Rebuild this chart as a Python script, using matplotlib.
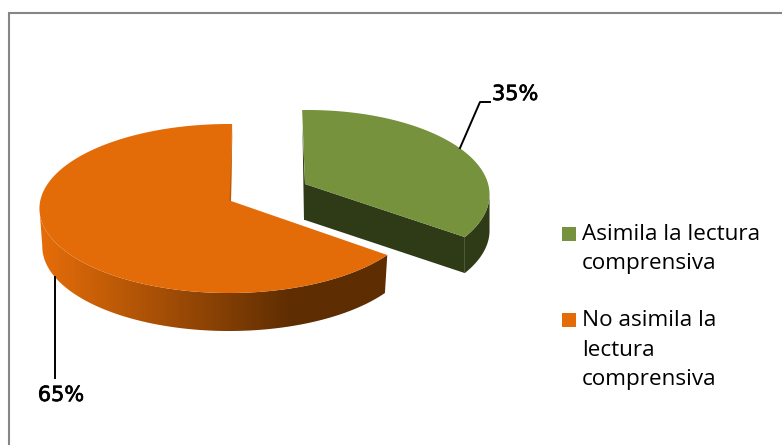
import numpy as np
import matplotlib
matplotlib.use('Agg')
import matplotlib.pyplot as plt
import matplotlib.patheffects as pe
from matplotlib.colors import LinearSegmentedColormap
from matplotlib.patches import Polygon

# chart values
categories = ['Asimila la lectura\ncomprensiva', 'No asimila la\nlectura\ncomprensiva']
shares = [35, 65]
share_labels = ['35%', '65%']

GREEN = '#76923C'
GREEN_SIDE = '#2F3A17'
ORANGE = '#E36C09'
ORANGE_DARK = '#5E2D02'
FRAME = '#868686'


def project(theta, cx, cy, rx, ry=84.0, k=0.077):
    # theta is clockwise from the top, with a small perspective on the disc
    u, v = np.sin(theta), np.cos(theta)
    w = 1 + k * v
    return cx + rx * u / w, cy - ry * v / w


def wedge(start, sweep, cx, cy, rx, apex_x, apex_y):
    # sweep is signed, the angles come from the share values
    t = np.radians(start + np.linspace(0, sweep, 240))
    x, y = project(t, cx, cy, rx)
    return np.r_[apex_x, x], np.r_[apex_y, y]


fig = plt.figure(figsize=(7.82, 4.45), dpi=100)
ax = fig.add_axes([0, 0, 1, 1])

# chart frame, runs off the picture at the bottom and on the right
ax.plot([9, 9, 790], [450, 13, 13], color=FRAME, lw=1.5, zorder=1, solid_joinstyle='miter')

# green slice, pulled out to the right
green_sweep = shares[0] / sum(shares) * 360
gx, gy = wedge(-2, green_sweep, 308, 188, 181, 305, 184)
depth = 36
i = np.argmax(gx)
side = np.c_[np.r_[gx[i:], gx[i:][::-1]], np.r_[gy[i:], gy[i:][::-1] + depth]]
ax.add_patch(Polygon(side, fc=GREEN_SIDE, ec='none', zorder=2))
face = np.c_[[gx[0], gx[-1], gx[-1], gx[0]], [gy[0], gy[-1], gy[-1] + depth, gy[0] + depth]]
ax.add_patch(Polygon(face, fc=GREEN_SIDE, ec='none', zorder=2))
# sliver of the inner wall along the left edge
sliver = np.c_[[gx[1] + 0.3, gx[0], gx[0], gx[0] - 1], [gy[1] + 16, gy[0], gy[0] + depth, gy[0] + depth]]
ax.add_patch(Polygon(sliver, fc=GREEN_SIDE, ec='none', zorder=2))
ax.add_patch(Polygon(np.c_[gx, gy], fc=GREEN, ec='none', zorder=3))

# orange slice, goes the other way round from the top
orange_sweep = -shares[1] / sum(shares) * 360
ox, oy = wedge(1, orange_sweep, 229, 202, 189, 231, 201)
depth = 38
i = np.argmin(ox)
rim_x = 229 + (ox[i:] - 229) * 0.985
rim = np.c_[np.r_[ox[i:], rim_x[::-1]], np.r_[oy[i:], oy[i:][::-1] + depth]]
rim_patch = Polygon(rim, fc='none', ec='none', zorder=4)
ax.add_patch(rim_patch)

# shading of the rim: light on the left, flat dark from about x=290
cmap = LinearSegmentedColormap.from_list('rim', [ORANGE, ORANGE_DARK])
ramp = np.clip(np.linspace(-0.02, 1.39, 256), 0, 1)[None, :]
im = ax.imshow(ramp, extent=[40, 390, 340, 200], cmap=cmap, vmin=0, vmax=1, aspect='auto', zorder=4)
im.set_clip_path(rim_patch)

# thin dark sliver of the inner wall next to the top edge
ax.add_patch(Polygon([[232.5, 124], [231, 201], [229.5, 201]], fc='#B85A08', ec='none', zorder=6))
ax.add_patch(Polygon(np.c_[ox, oy], fc=ORANGE, ec='none', zorder=5))
ax.set_xlim(0, 782)
ax.set_ylim(445, 0)
ax.axis('off')

# leader lines and share labels
ax.plot([460, 480, 490], [148, 102, 102], color='black', lw=1.4, zorder=6)
ax.plot([55, 55], [277, 378], color='black', lw=1.4, zorder=6)
bold = [pe.withStroke(linewidth=0.5, foreground='black')]
ax.text(492, 94, share_labels[0], fontsize=15, family='DejaVu Sans', ha='left', va='center', path_effects=bold)
ax.text(61, 395, share_labels[1], fontsize=15, family='DejaVu Sans', ha='center', va='center', path_effects=bold)

# legend
ax.scatter([568.5], [233.5], marker='s', s=109, color=GREEN, lw=0, zorder=6)
ax.scatter([568.5], [320], marker='s', s=109, color=ORANGE, lw=0, zorder=6)
ax.text(582, 235, categories[0].split('\n')[0], fontsize=16.2, family='Open Sans', va='center')
ax.text(582, 264, categories[0].split('\n')[1], fontsize=16.2, family='Open Sans', va='center')
for n, line in enumerate(categories[1].split('\n')):
    ax.text(582, 320 + n * 30, line, fontsize=16.2, family='Open Sans', va='center')

fig.savefig('out.png', dpi=100)
